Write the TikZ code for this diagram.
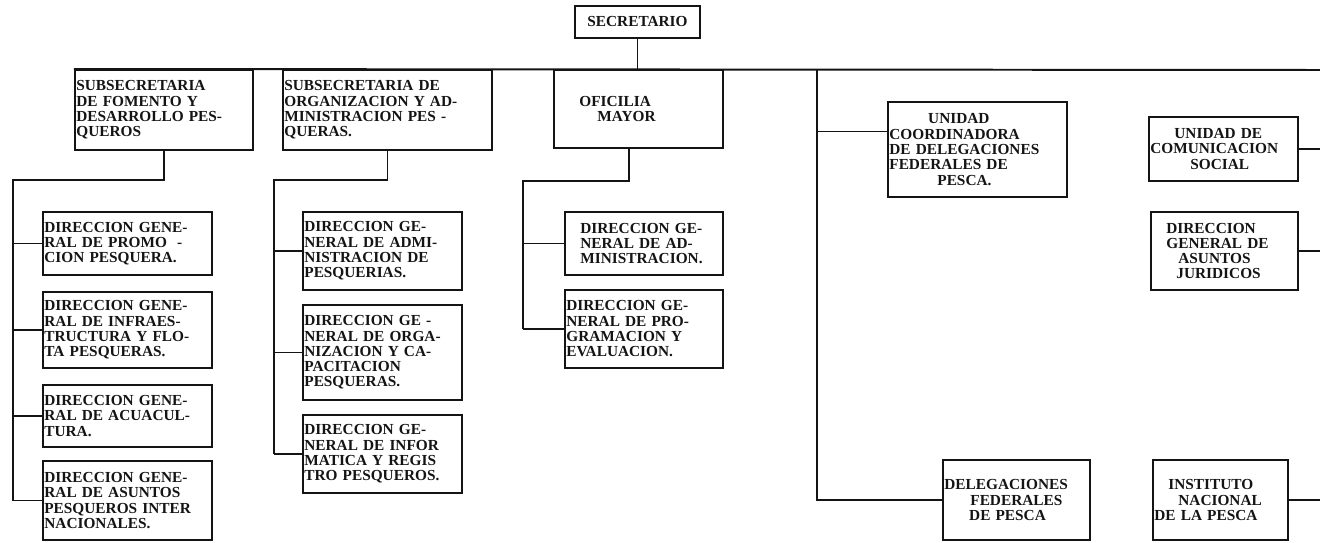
\documentclass[tikz,border=0pt]{standalone}
\usepackage{fontspec}
\setmainfont{Liberation Serif}
\definecolor{ink}{RGB}{20,20,20}
\tikzset{
  org/.style={draw=ink,line width=1.4pt,align=left,inner xsep=1pt,inner ysep=0pt,
    text=ink,font=\fontsize{10.9}{10.9}\selectfont\bfseries},
  link/.style={draw=ink,line width=1.4pt},
}

\begin{document}
\begin{tikzpicture}[x=0.025cm,y=-0.025cm]
  \useasboundingbox (0,0) rectangle (1320,543);
  % head and first level
  \node[org,align=center,minimum width=3.125cm,minimum height=0.8cm] (sec) at (637.5,22) {SECRETARIO};
  \node[org,text width=4.38cm,minimum height=2cm] (sf) at (164,110)
    {SUBSECRETARIA\\DE FOMENTO Y\\DESARROLLO PES-\\QUEROS};
  \node[org,text width=5.155cm,minimum height=2cm] (so) at (387.5,110)
    {SUBSECRETARIA DE\\ORGANIZACION Y AD-\\MINISTRACION PES -\\QUERAS.};
  \node[org,text width=4.155cm,minimum height=1.95cm] (om) at (638.5,109)
    {\hspace*{0.6cm}OFICILIA\\\hspace*{1.05cm}MAYOR};
  \node[org,text width=4.405cm,minimum height=2.375cm] (ucd) at (977.5,149.5)
    {\hspace*{0.97cm}UNIDAD\\COORDINADORA\\DE DELEGACIONES\\FEDERALES DE\\\hspace*{1.2cm}PESCA.};
  \node[org,text width=3.655cm,minimum height=1.6cm] (ucs) at (1223.5,149)
    {\hspace*{0.6cm}UNIDAD DE\\COMUNICACION\\\hspace*{1cm}SOCIAL};
  \node[org,text width=3.605cm,minimum height=1.95cm] (dgaj) at (1224.5,251)
    {\hspace*{0.35cm}DIRECCION\\\hspace*{0.35cm}GENERAL DE\\\hspace*{0.65cm}ASUNTOS\\\hspace*{0.6cm}JURIDICOS};
  \node[org,text width=3.605cm,minimum height=2cm] (dfp) at (1016.5,500)
    {DELEGACIONES\\\hspace*{0.65cm}FEDERALES\\\hspace*{0.62cm}DE PESCA};
  \node[org,text width=3.305cm,minimum height=2cm] (inp) at (1220.5,500)
    {\hspace*{0.35cm}INSTITUTO\\\hspace*{0.6cm}NACIONAL\\DE LA PESCA};

  % direcciones generales
  \foreach \y/\h/\t [count=\i] in {
    243.5/1.575cm/DIRECCION GENE-\\RAL DE PROMO\ \ -\\CION PESQUERA.,
    330/1.9cm/DIRECCION GENE-\\RAL DE INFRAES-\\TRUCTURA Y FLO-\\TA PESQUERAS.,
    416/1.55cm/DIRECCION GENE-\\RAL DE ACUACUL-\\TURA.,
    500.5/1.975cm/DIRECCION GENE-\\RAL DE ASUNTOS\\PESQUEROS INTER\\NACIONALES.}
    \node[org,text width=4.155cm,minimum height=\h] (l\i) at (127.5,\y) {\t};
  \foreach \y/\h/\t [count=\i] in {
    251/1.95cm/DIRECCION GE-\\NERAL DE ADMI-\\NISTRACION DE\\PESQUERIAS.,
    352.5/2.375cm/DIRECCION GE -\\NERAL DE ORGA-\\NIZACION Y CA-\\PACITACION\\PESQUERAS.,
    454/1.95cm/DIRECCION GE-\\NERAL DE INFOR\\MATICA Y REGIS\\TRO PESQUEROS.}
    \node[org,text width=3.905cm,minimum height=\h] (m\i) at (382.5,\y) {\t};
  \node[org,text width=3.88cm,minimum height=1.575cm] (o1) at (644,243.5)
    {\hspace*{0.35cm}DIRECCION GE-\\\hspace*{0.35cm}NERAL DE AD-\\\hspace*{0.35cm}MINISTRACION.};
  \node[org,text width=3.88cm,minimum height=1.95cm] (o2) at (644,329)
    {DIRECCION GE-\\NERAL DE PRO-\\GRAMACION Y\\EVALUACION.};

  % buses
  \coordinate (redge) at (1320,70);
  \coordinate (rbus) at (817,70);
  \coordinate (lbus) at (13,180);
  \coordinate (mbus) at (274,180);
  \coordinate (obus) at (523,181);

  \draw[link] (sec.south) -- (sec.south |- redge);
  \draw[link] (sf.north west) -- (redge);
  \draw[link] (sf.south) |- (lbus) -- (lbus |- l4.west);
  \foreach \i in {1,...,4} \draw[link] (lbus |- l\i.west) -- (l\i.west);
  \draw[link] (so.south) |- (mbus) -- (mbus |- m3.west);
  \foreach \i in {1,2,3} \draw[link] (mbus |- m\i.west) -- (m\i.west);
  \draw[link] ([xshift=-0.24cm]om.south) |- (obus) -- (obus |- o2.west);
  \foreach \i in {1,2} \draw[link] (obus |- o\i.west) -- (o\i.west);
  \draw[link] (rbus) |- (dfp.west);
  \draw[link] ([yshift=0.45cm]ucd.west) -- ([yshift=0.45cm]ucd.west -| rbus);
  \foreach \n in {ucs,dgaj,inp} \draw[link] (\n.east) -- (\n.east -| redge);
\end{tikzpicture}
\end{document}
